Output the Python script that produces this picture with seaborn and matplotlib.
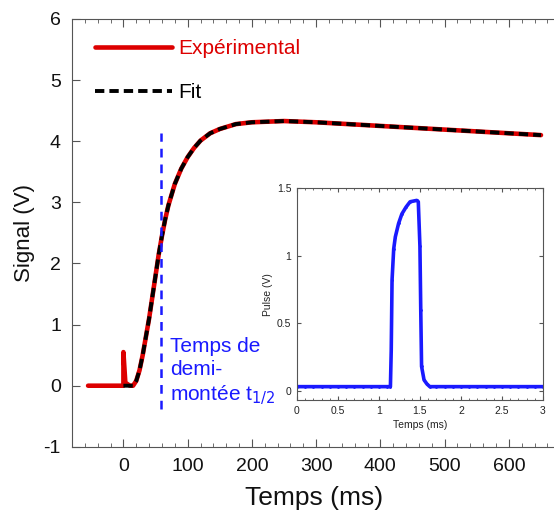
import numpy as np
import pandas as pd
import matplotlib
matplotlib.use("Agg")
import matplotlib.pyplot as plt
from matplotlib.ticker import MultipleLocator
import seaborn as sns

# ---- data ----
exp_t = [-55, 0, 0, 3, 10, 15, 20, 25, 30, 35, 40, 45, 50, 55, 60, 65, 70, 80, 90,
         100, 110, 120, 135, 150, 175, 200, 250, 300, 350, 400, 450, 500, 550, 600, 650]
exp_v = [0, 0, 0.55, 0.05, 0, 0.0, 0.08, 0.25, 0.5, 0.8, 1.1, 1.45, 1.8, 2.15, 2.45,
         2.72, 2.95, 3.3, 3.55, 3.74, 3.89, 4.01, 4.13, 4.2, 4.28, 4.31, 4.33, 4.31,
         4.28, 4.25, 4.22, 4.19, 4.16, 4.13, 4.1]
fit_t = [0, 10, 15, 20, 25, 30, 35, 40, 45, 50, 55, 60, 65, 70, 80, 90, 100, 110,
         120, 135, 150, 175, 200, 250, 300, 350, 400, 450, 500, 550, 600, 650]
fit_v = [0, 0, 0.0, 0.08, 0.25, 0.5, 0.8, 1.1, 1.45, 1.8, 2.15, 2.45, 2.72, 2.95,
         3.3, 3.55, 3.74, 3.89, 4.01, 4.13, 4.2, 4.28, 4.31, 4.33, 4.31, 4.28, 4.25,
         4.22, 4.19, 4.16, 4.13, 4.1]
t_half = 58

pulse_t = [0.0, 0.1, 0.2, 0.3, 0.4, 0.5, 0.6, 0.7, 0.8, 0.9, 1.0, 1.1, 1.14, 1.15,
           1.16, 1.18, 1.20, 1.24, 1.28, 1.33, 1.38, 1.46, 1.48, 1.50, 1.51, 1.52,
           1.55, 1.585, 1.62, 1.7, 1.8, 1.9, 2.0, 2.1, 2.2, 2.3, 2.4, 2.5, 2.6, 2.7,
           2.8, 2.9, 3.0]
pulse_v = [0.03, 0.03, 0.03, 0.03, 0.03, 0.03, 0.03, 0.03, 0.03, 0.03, 0.03, 0.03,
           0.03, 0.3, 0.82, 1.05, 1.14, 1.24, 1.31, 1.36, 1.40, 1.41, 1.40, 1.07, 0.6,
           0.18, 0.08, 0.05, 0.03, 0.03, 0.03, 0.03, 0.03, 0.03, 0.03, 0.03, 0.03,
           0.03, 0.03, 0.03, 0.03, 0.03, 0.03]

sns.set_style("ticks")
plt.rcParams['font.family'] = ['Liberation Sans', 'DejaVu Sans']
plt.rcParams['axes.unicode_minus'] = False
RED = "#dd0000"
BLUE = "#1a1aff"
GRAY = "#555555"
TXT = "#111111"

fig = plt.figure(figsize=(5.54, 5.13), dpi=100)
ax = fig.add_axes([0.130, 0.129, 0.872, 0.834])

exp_df = pd.DataFrame({"t": exp_t, "v": exp_v})
fit_df = pd.DataFrame({"t": fit_t, "v": fit_v})
sns.lineplot(data=exp_df, x="t", y="v", sort=False, estimator=None, ax=ax,
             color=RED, lw=3.3, label="Expérimental")
sns.lineplot(data=fit_df, x="t", y="v", sort=False, estimator=None, ax=ax,
             color="black", lw=2.8, label="Fit", dashes=False)
ax.lines[-1].set_dashes([2.4, 1.3])
ax.plot([t_half, t_half], [-0.38, 4.13], color=BLUE, lw=1.8, dashes=(3.5, 2.8))
ax.text(t_half + 15, 0.80, "Temps de\ndemi-\nmontée t$_{1/2}$", color=BLUE,
        fontsize=15, va="top", ha="left", linespacing=1.28)

ax.set_xlim(-80, 672)
ax.set_ylim(-1, 6)
ax.set_xticks([0, 100, 200, 300, 400, 500, 600])
ax.xaxis.set_minor_locator(MultipleLocator(20))
ax.set_yticks(range(-1, 7))
ax.tick_params(which="both", direction="in", top=True, colors=GRAY,
               labelcolor=TXT, labelsize=14, pad=8)
ax.tick_params(which="major", length=6)
ax.tick_params(which="minor", length=3)
for s in ax.spines.values():
    s.set_color(GRAY)
ax.spines["right"].set_visible(False)
ax.set_xlabel("Temps (ms)", fontsize=19, color=TXT, labelpad=8)
ax.set_ylabel("Signal (V)", fontsize=16, color=TXT, labelpad=6)

leg = ax.legend(loc="upper left", bbox_to_anchor=(0.048, 0.953), frameon=False,
                borderpad=0, borderaxespad=0,
                fontsize=15, handlelength=3.7, labelspacing=1.2,
                handletextpad=0.3, labelcolor=[RED, "black"])

# ---- inset ----
ins = fig.add_axes([0.536, 0.220, 0.444, 0.413])
pulse_df = pd.DataFrame({"t": pulse_t, "v": pulse_v})
sns.lineplot(data=pulse_df, x="t", y="v", ax=ins, color=BLUE, lw=2.6,
             marker=".", markersize=4, markeredgewidth=0, estimator=None, sort=False)
ins.set_xlim(0, 3)
ins.set_ylim(-0.07, 1.5)
ins.set_xticks([0, 0.5, 1, 1.5, 2, 2.5, 3])
ins.set_xticklabels(["0", "0.5", "1", "1.5", "2", "2.5", "3"])
ins.set_yticks([0, 0.5, 1, 1.5])
ins.set_yticklabels(["0", "0.5", "1", "1.5"])
ins.xaxis.set_minor_locator(MultipleLocator(0.1))
ins.tick_params(which="both", direction="in", top=True, right=True, colors=GRAY,
                labelcolor="#222222", labelsize=7.5, pad=4)
ins.tick_params(which="major", length=3)
ins.tick_params(which="minor", length=1.5)
for s in ins.spines.values():
    s.set_color(GRAY)
    s.set_linewidth(0.8)
ins.set_xlabel("Temps (ms)", fontsize=7.5, color="#222222", labelpad=3)
ins.set_ylabel("Pulse (V)", fontsize=7.5, color="#222222", labelpad=3)

fig.savefig("out.png", dpi=100)
